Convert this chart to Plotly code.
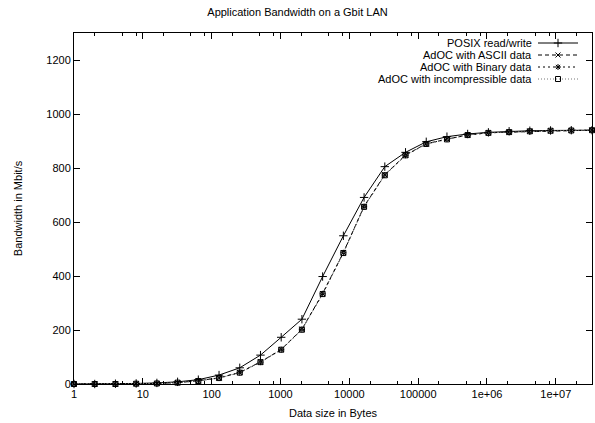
import plotly.graph_objects as go

# Data: message sizes are powers of two, 1 .. 2^25 bytes
sizes = [2 ** n for n in range(26)]

posix = [0, 0, 1, 2, 4, 8, 16, 33, 60, 107, 173, 240, 398, 549, 691, 805,
         858, 897, 916, 926, 932, 936, 938, 939, 940, 940]
ascii_data = [0, 0, 0, 1, 2, 5, 12, 23, 43, 82, 128, 203, 335, 487, 658, 775,
              848, 890, 907, 923, 931, 933, 936, 938, 939, 940]
binary_data = [0, 0, 0, 1, 2, 5, 12, 22, 42, 81, 127, 202, 334, 486, 657, 774,
               847, 889, 907, 922, 930, 933, 936, 938, 939, 940]
incompressible = [0, 0, 0, 1, 2, 5, 11, 22, 42, 81, 127, 201, 333, 485, 656, 773,
                  847, 889, 906, 922, 930, 933, 936, 938, 939, 940]

series_names = ["POSIX read/write", "AdOC with ASCII data",
                "AdOC with Binary data", "AdOC with incompressible data"]
series_values = [posix, ascii_data, binary_data, incompressible]

x_tickvals = [1, 10, 100, 1000, 10000, 100000, 1e6, 1e7]
x_ticktext = ["1", "10", "100", "1000", "10000", "100000", "1e+06", "1e+07"]
y_tickvals = [0, 200, 400, 600, 800, 1000, 1200]

styles = [
    dict(line=dict(color="black", width=1, dash="solid"),
         marker=dict(symbol="cross-thin", size=6, color="black", line=dict(color="black", width=1))),
    dict(line=dict(color="black", width=1, dash="4px,3px"),
         marker=dict(symbol="x-thin", size=5, color="black", line=dict(color="black", width=1))),
    dict(line=dict(color="black", width=1, dash="2px,3px"),
         marker=dict(symbol="asterisk-open", size=5, color="black", line=dict(color="black", width=1))),
    dict(line=dict(color="#777777", width=1, dash="1px,2px"),
         marker=dict(symbol="square-open", size=5, color="black", line=dict(color="black", width=1))),
]

FONT = "Liberation Sans, Arial, Helvetica, sans-serif"

fig = go.Figure()
for name, vals, st in zip(series_names, series_values, styles):
    fig.add_trace(go.Scatter(x=sizes, y=vals, mode="lines+markers", name=name,
                             line=st["line"], marker=st["marker"], showlegend=False,
                             cliponaxis=False))

# Custom gnuplot-style legend (text on the left, sample on the right),
# drawn on an overlay axis measured in window pixels.
leg_rows = [43, 55, 67, 79]
for name, st, yrow in zip(series_names, styles, leg_rows):
    fig.add_trace(go.Scatter(x=[538, 578], y=[yrow, yrow], mode="lines",
                             line=st["line"], xaxis="x2", yaxis="y2",
                             showlegend=False, hoverinfo="skip"))
    fig.add_trace(go.Scatter(x=[558], y=[yrow], mode="markers",
                             marker=st["marker"], xaxis="x2", yaxis="y2",
                             showlegend=False, hoverinfo="skip"))
    fig.add_annotation(x=534, y=yrow, xref="x2", yref="y2", text=name,
                       showarrow=False, xanchor="right", yanchor="middle",
                       font=dict(family=FONT, size=11, color="black"))

fig.update_layout(
    width=595, height=423,
    margin=dict(l=74, r=3, t=33, b=39, autoexpand=False),
    paper_bgcolor="white", plot_bgcolor="white",
    font=dict(family=FONT, size=11, color="black"),
    title=dict(text="Application Bandwidth on a Gbit LAN", x=0.5, xanchor="center",
               y=1 - 12 / 423, yanchor="middle", font=dict(family=FONT, size=11)),
    xaxis=dict(type="log", range=[0, 25 * 0.30103], tickvals=x_tickvals, ticktext=x_ticktext,
               ticks="inside", ticklen=6, tickcolor="black", showline=True, linecolor="black",
               linewidth=1, mirror="ticks", showgrid=False, zeroline=False, automargin=False,
               minor=dict(ticks="inside", ticklen=3, tickcolor="black",
                          tickvals=[m * 10 ** k for k in range(8) for m in (2, 5, 8)]),
               title=dict(text="Data size in Bytes", standoff=10, font=dict(size=11))),
    yaxis=dict(range=[0, 1300], tickvals=y_tickvals, ticks="inside", ticklen=6,
               tickcolor="black", showline=True, linecolor="black", linewidth=1,
               mirror="ticks", showgrid=False, zeroline=False, automargin=False,
               title=dict(text="Bandwidth in Mbit/s", standoff=21, font=dict(size=11))),
    xaxis2=dict(overlaying="x", range=[74, 592], visible=False, fixedrange=True),
    yaxis2=dict(overlaying="y", range=[384, 33], visible=False, fixedrange=True),
)

fig.write_html("out.html", config={"displayModeBar": False},
               post_script="document.body.style.margin='0';document.body.style.padding='0';")
